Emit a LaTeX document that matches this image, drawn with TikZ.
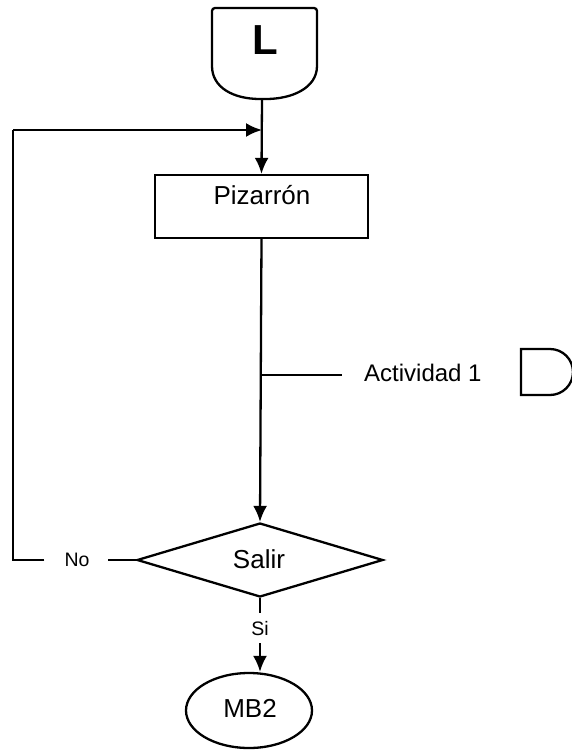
\documentclass[tikz,border=0pt]{standalone}
\usepackage{fontspec}
\setmainfont{Liberation Sans}
\usetikzlibrary{arrows.meta,shapes.geometric}

\tikzset{
  flow/.style={line width=2.3pt},
  flowarrow/.style={flow,-{Latex[length=16pt,width=14pt]}},
  procbox/.style={draw,flow,minimum width=213pt,minimum height=63pt,inner sep=0pt},
  decision/.style={draw,flow,diamond,aspect=3.3,minimum width=246pt,minimum height=74pt,inner sep=0pt},
  terminal/.style={draw,flow,ellipse,minimum width=126pt,minimum height=75pt,inner sep=0pt},
  lbl/.style={font=\fontsize{26}{28}\selectfont,inner sep=0pt},
  smalllbl/.style={font=\fontsize{19.5}{22}\selectfont,inner sep=0pt}
}

\begin{document}
\begin{tikzpicture}[x=1pt,y=-1pt]
  \useasboundingbox (0,0) rectangle (571,750);
  % Connector L
  \draw[flow, rounded corners=3pt] (212,63) -- (212,8) -- (317,8) -- (317,63)
    .. controls (317,88) and (292,99) .. (263,99)
    .. controls (234,99) and (212,88) .. (212,63) -- cycle;
  \node[font=\fontsize{42}{42}\selectfont\bfseries] (conL) at (265,40) {L};
  \coordinate (conLbot) at (262,99);
  % Nodes
  \node[procbox] (piz) at (261.5,206.5) {};
  \node[lbl] (pizlbl) at (262,195) {Pizarrón};
  \node[decision] (salir) at (260,560) {};
  \node[lbl] (salirlbl) at (259,559) {Salir};
  \node[terminal] (mb2) at (249,710.5) {};
  \node[lbl] (mb2lbl) at (250,708) {MB2};
  \node[smalllbl] (no) at (77,560) {No};
  \node[smalllbl] (si) at (260,629) {Si};
  % Actividad
  \coordinate (actfoot) at (261,375);
  \coordinate (actend) at (342,375);
  \node[font=\fontsize{24}{26}\selectfont, inner sep=0pt, anchor=west] (act) at (364,373) {Actividad 1};
  \draw[flow] (521,349) -- (550,349) arc[start angle=-90, end angle=90, x radius=23, y radius=23] -- (521,395) -- cycle;
  % Loop
  \coordinate (loopin) at (262,130);
  \coordinate (loopup) at (13,130);
  \coordinate (loopdown) at (13,560);
  % Connectors
  \draw[flowarrow] (conLbot) -- (piz.north);
  \draw[flowarrow] (piz.south) -- (salir.north);
  \draw[flow] (actfoot) -- (actend);
  \draw[flow] (salir.west) -- ([xshift=18pt]no.east);
  \draw[flow] ([xshift=-20pt]no.west) -- (loopdown) -- (loopup);
  \draw[flowarrow] (loopup) -- (loopin);
  \draw[flow] (salir.south) -- ([yshift=9pt]si.north);
  \draw[flowarrow] ([yshift=-7pt]si.south) -- (si.south |- mb2.north);
\end{tikzpicture}
\end{document}
